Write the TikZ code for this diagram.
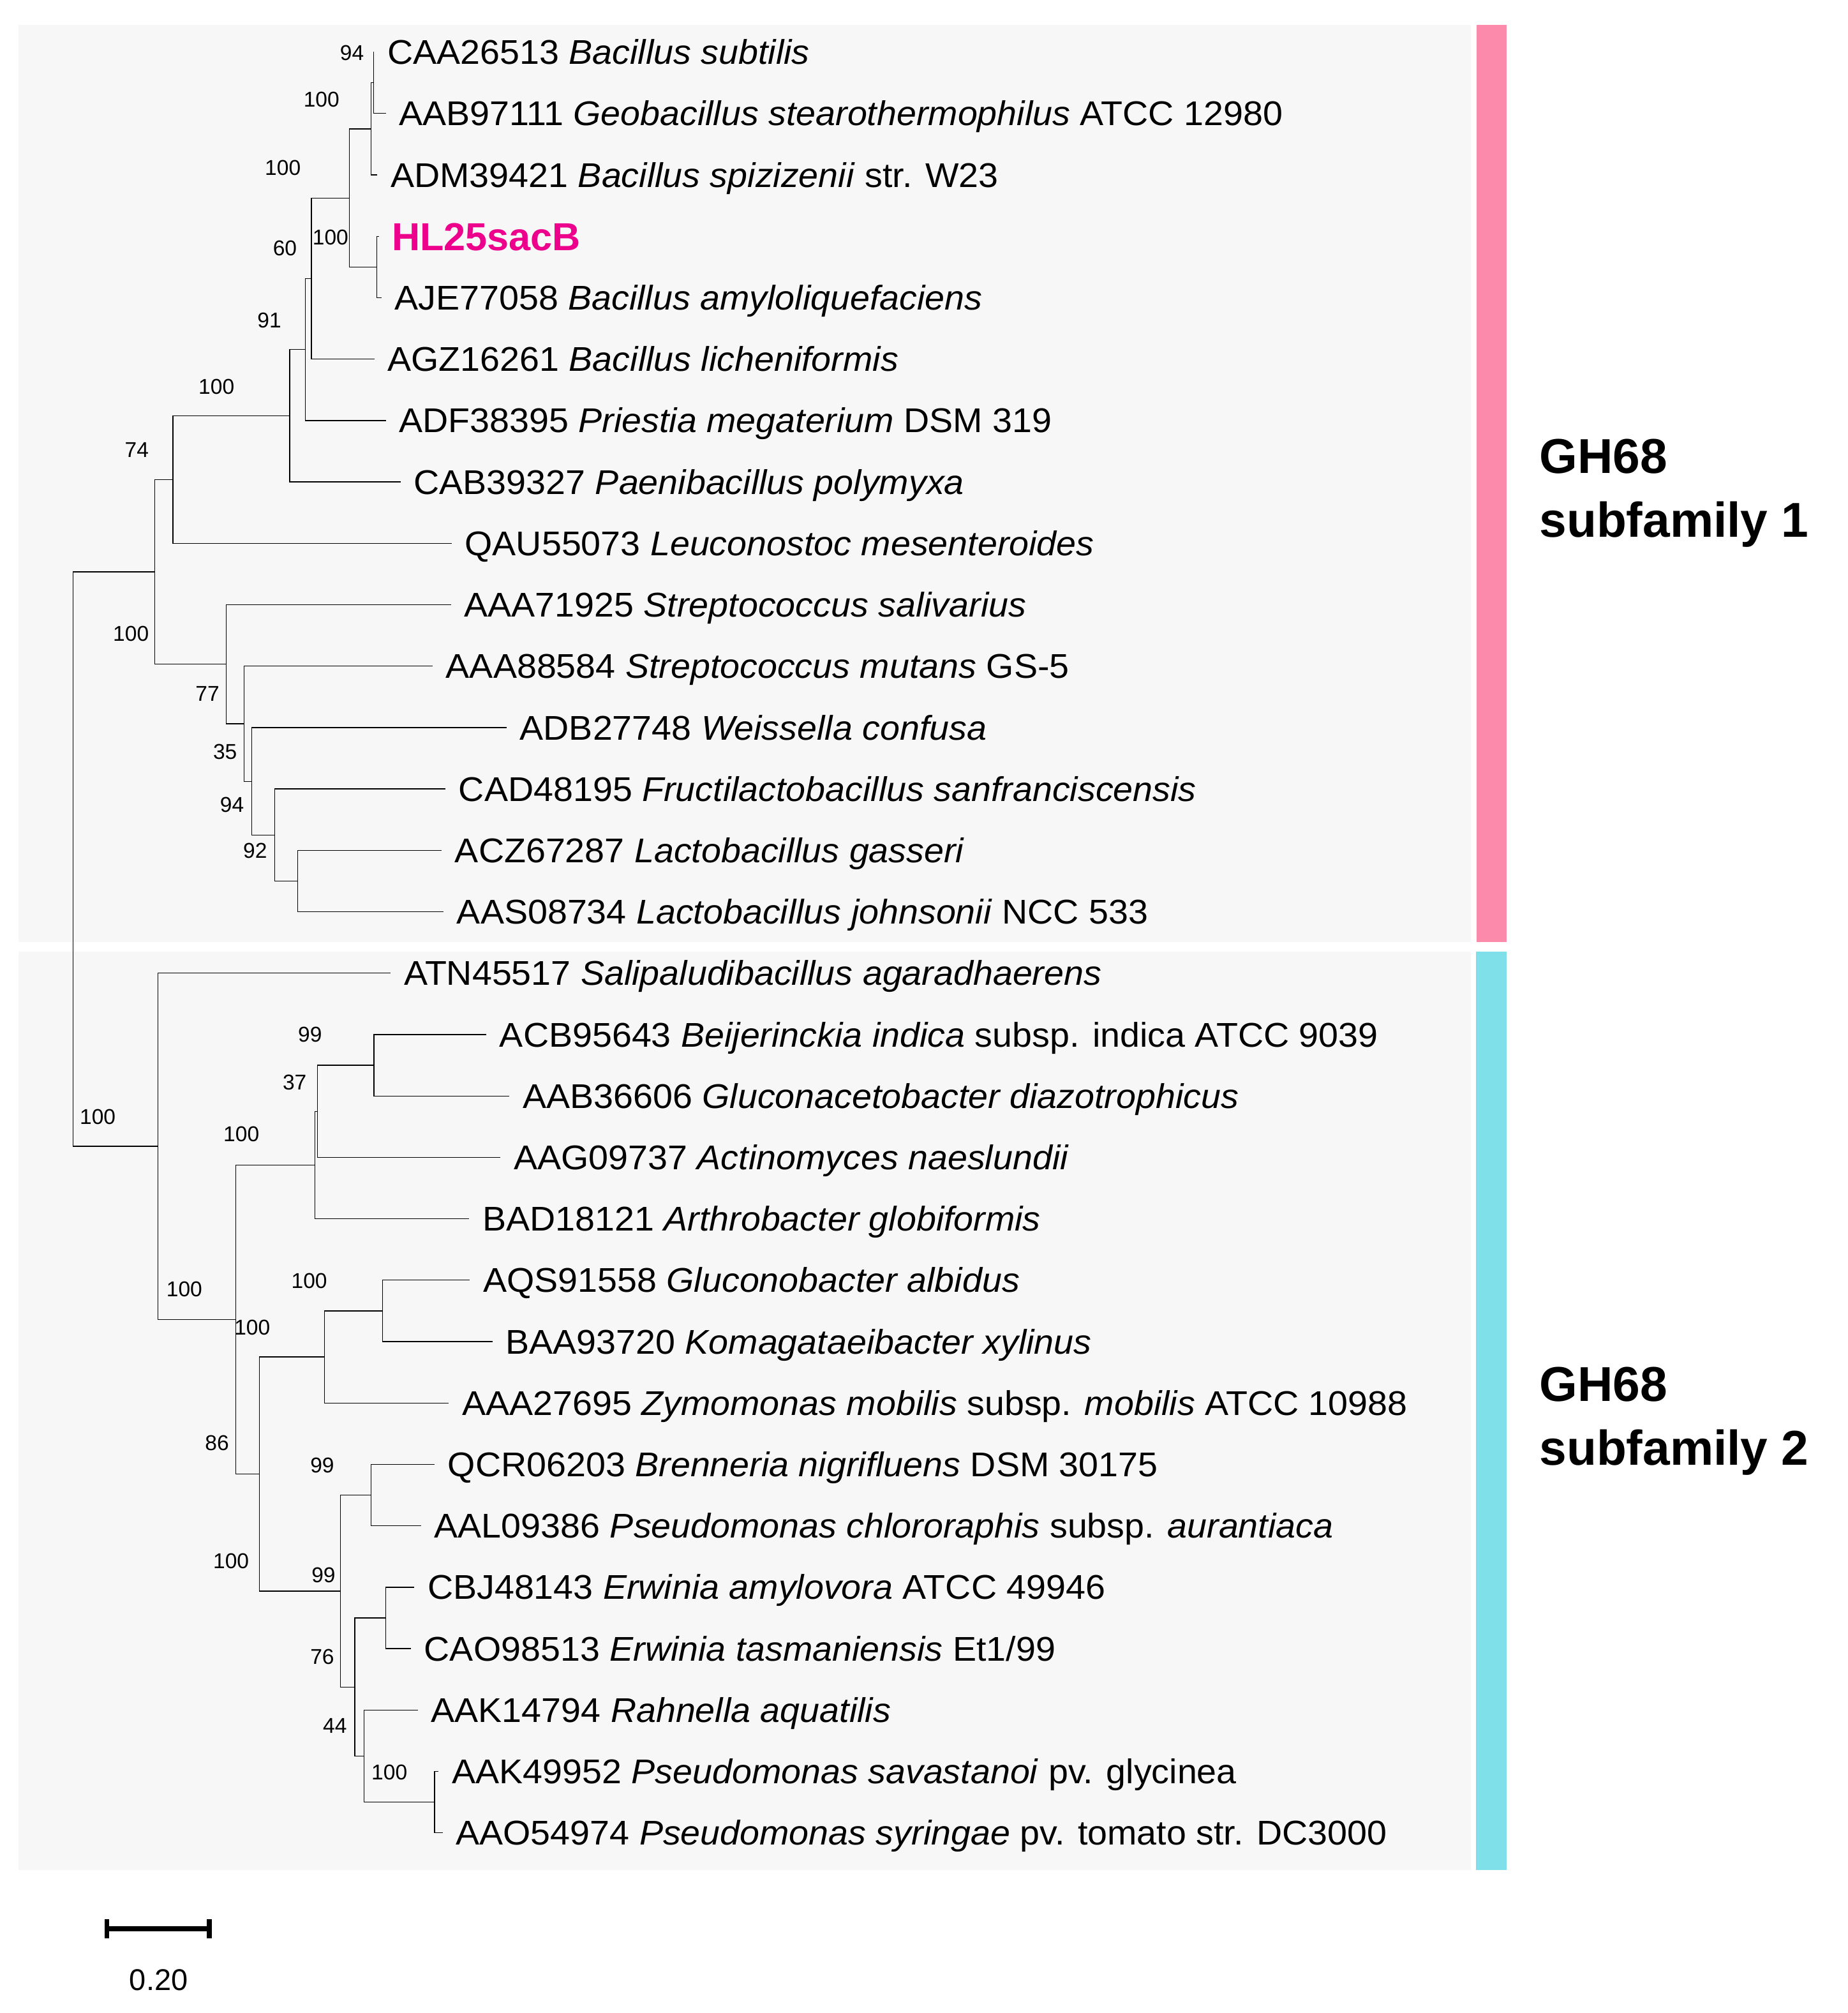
\documentclass[tikz,border=0pt]{standalone}
\usepackage{fontspec}
\setmainfont{Liberation Sans}
\newfontfamily\taxfont{Liberation Sans}[FakeStretch=1.035]
\usetikzlibrary{positioning}
\definecolor{hlpink}{RGB}{236,0,140}
\definecolor{barpink}{RGB}{252,138,170}
\definecolor{barcyan}{RGB}{128,224,234}
\definecolor{panelgray}{RGB}{247,247,247}
\tikzset{
  branch/.style={line width=0.35pt, black},
  taxon/.style={inner sep=0pt, text height=10.8pt, text depth=0pt, font=\taxfont\fontsize{15.2}{18}\selectfont},
  query/.style={taxon, text height=12.4pt, text=hlpink, font=\rmfamily\fontsize{17.3}{20}\selectfont\bfseries},
  boot/.style={inner sep=0pt, font=\fontsize{9.5}{11}\selectfont},
  famlabel/.style={inner sep=0pt, anchor=base west, font=\fontsize{21.7}{26}\selectfont\bfseries},
}
\begin{document}
\begin{tikzpicture}[x=0.02cm, y=-0.02cm]
  \useasboundingbox (0,0) rectangle (1439,1567.7);

  % panels and side bars
  \fill[panelgray] (14.4,19.4) rectangle (1145.8,733.7);
  \fill[panelgray] (14.4,741.2) rectangle (1145.8,1456.3);
  \fill[barpink] (1150.3,19.4) rectangle (1173.6,733.7);
  \fill[barcyan] (1149.8,741.2) rectangle (1173.6,1456.3);

  % leaf tips
  \coordinate (l1) at (291.5,40.6);
  \coordinate (l2) at (300.5,88.4);
  \coordinate (l3) at (294,136.2);
  \coordinate (l4) at (295,184.1);
  \coordinate (l5) at (297,231.9);
  \coordinate (l6) at (291.6,279.7);
  \coordinate (l7) at (300.5,327.5);
  \coordinate (l8) at (312,375.3);
  \coordinate (l9) at (351.8,423.2);
  \coordinate (l10) at (351.2,471.0);
  \coordinate (l11) at (337,518.8);
  \coordinate (l12) at (394.6,566.6);
  \coordinate (l13) at (347,614.4);
  \coordinate (l14) at (344,662.3);
  \coordinate (l15) at (345.5,710.1);
  \coordinate (l16) at (304.3,757.9);
  \coordinate (l17) at (378.8,805.7);
  \coordinate (l18) at (396.8,853.5);
  \coordinate (l19) at (389.9,901.4);
  \coordinate (l20) at (365.5,949.2);
  \coordinate (l21) at (366,997.0);
  \coordinate (l22) at (383.5,1044.8);
  \coordinate (l23) at (349.6,1092.6);
  \coordinate (l24) at (338.5,1140.5);
  \coordinate (l25) at (328,1188.3);
  \coordinate (l26) at (322.7,1236.1);
  \coordinate (l27) at (320.1,1283.9);
  \coordinate (l28) at (325.5,1331.7);
  \coordinate (l29) at (341.7,1379.6);
  \coordinate (l30) at (344.8,1427.4);

  % taxa
  \node[taxon, right=0.2cm of l1] (t1) {CAA26513 \textit{Bacillus subtilis}};
  \node[taxon, right=0.2cm of l2] (t2) {AAB97111 \textit{Geobacillus stearothermophilus} ATCC 12980};
  \node[taxon, right=0.2cm of l3] (t3) {ADM39421 \textit{Bacillus spizizenii} str. W23};
  \node[query, right=0.2cm of l4] (t4) {HL25sacB};
  \node[taxon, right=0.2cm of l5] (t5) {AJE77058 \textit{Bacillus amyloliquefaciens}};
  \node[taxon, right=0.2cm of l6] (t6) {AGZ16261 \textit{Bacillus licheniformis}};
  \node[taxon, right=0.2cm of l7] (t7) {ADF38395 \textit{Priestia megaterium} DSM 319};
  \node[taxon, right=0.2cm of l8] (t8) {CAB39327 \textit{Paenibacillus polymyxa}};
  \node[taxon, right=0.2cm of l9] (t9) {QAU55073 \textit{Leuconostoc mesenteroides}};
  \node[taxon, right=0.2cm of l10] (t10) {AAA71925 \textit{Streptococcus salivarius}};
  \node[taxon, right=0.2cm of l11] (t11) {AAA88584 \textit{Streptococcus mutans} GS-5};
  \node[taxon, right=0.2cm of l12] (t12) {ADB27748 \textit{Weissella confusa}};
  \node[taxon, right=0.2cm of l13] (t13) {CAD48195 \textit{Fructilactobacillus sanfranciscensis}};
  \node[taxon, right=0.2cm of l14] (t14) {ACZ67287 \textit{Lactobacillus gasseri}};
  \node[taxon, right=0.2cm of l15] (t15) {AAS08734 \textit{Lactobacillus johnsonii} NCC 533};
  \node[taxon, right=0.2cm of l16] (t16) {ATN45517 \textit{Salipaludibacillus agaradhaerens}};
  \node[taxon, right=0.2cm of l17] (t17) {ACB95643 \textit{Beijerinckia indica} subsp. indica ATCC 9039};
  \node[taxon, right=0.2cm of l18] (t18) {AAB36606 \textit{Gluconacetobacter diazotrophicus}};
  \node[taxon, right=0.2cm of l19] (t19) {AAG09737 \textit{Actinomyces naeslundii}};
  \node[taxon, right=0.2cm of l20] (t20) {BAD18121 \textit{Arthrobacter globiformis}};
  \node[taxon, right=0.2cm of l21] (t21) {AQS91558 \textit{Gluconobacter albidus}};
  \node[taxon, right=0.2cm of l22] (t22) {BAA93720 \textit{Komagataeibacter xylinus}};
  \node[taxon, right=0.2cm of l23] (t23) {AAA27695 \textit{Zymomonas mobilis} subsp. \textit{mobilis} ATCC 10988};
  \node[taxon, right=0.2cm of l24] (t24) {QCR06203 \textit{Brenneria nigrifluens} DSM 30175};
  \node[taxon, right=0.2cm of l25] (t25) {AAL09386 \textit{Pseudomonas chlororaphis} subsp. \textit{aurantiaca}};
  \node[taxon, right=0.2cm of l26] (t26) {CBJ48143 \textit{Erwinia amylovora} ATCC 49946};
  \node[taxon, right=0.2cm of l27] (t27) {CAO98513 \textit{Erwinia tasmaniensis} Et1/99};
  \node[taxon, right=0.2cm of l28] (t28) {AAK14794 \textit{Rahnella aquatilis}};
  \node[taxon, right=0.2cm of l29] (t29) {AAK49952 \textit{Pseudomonas savastanoi} pv. glycinea};
  \node[taxon, right=0.2cm of l30] (t30) {AAO54974 \textit{Pseudomonas syringae} pv. tomato str. DC3000};

  % internal nodes, subfamily 1
  \coordinate (nA) at (291,64.5);
  \coordinate (nB) at (289,100.35);
  \coordinate (nC) at (293.5,208);
  \coordinate (nD) at (272,154.2);
  \coordinate (nE) at (242.5,216.95);
  \coordinate (nF) at (237.7,272.2);
  \coordinate (nG) at (225.7,323.75);
  \coordinate (nH) at (134.7,373.5);
  \coordinate (nM) at (231.7,686.2);
  \coordinate (nL) at (214,650.3);
  \coordinate (nK) at (195.9,608.45);
  \coordinate (nJ) at (190.2,563.6);
  \coordinate (nI) at (176.2,517.3);
  \coordinate (nS1) at (120.4,445.4);
  % internal nodes, subfamily 2
  \coordinate (nW) at (291.3,829.6);
  \coordinate (nV) at (247.2,865.5);
  \coordinate (nU) at (245.3,907.35);
  \coordinate (nY2) at (298,1020.9);
  \coordinate (nY) at (252.6,1056.75);
  \coordinate (nZ1) at (289,1164.4);
  \coordinate (nZ5) at (300.5,1260);
  \coordinate (nZ4) at (338.5,1403.5);
  \coordinate (nZ3) at (283.7,1367.6);
  \coordinate (nZ2) at (276.4,1313.8);
  \coordinate (nZ) at (265.3,1239.1);
  \coordinate (nX) at (201.9,1147.9);
  \coordinate (nT) at (183.8,1027.6);
  \coordinate (nS2) at (123,892.75);
  \coordinate (root) at (57,669.1);

  % branches
  \draw[branch] (nA) |- (l1) (nA) |- (l2);
  \draw[branch] (nB) |- (nA) (nB) |- (l3);
  \draw[branch] (nC) |- (l4) (nC) |- (l5);
  \draw[branch] (nD) |- (nB) (nD) |- (nC);
  \draw[branch] (nE) |- (nD) (nE) |- (l6);
  \draw[branch] (nF) |- (nE) (nF) |- (l7);
  \draw[branch] (nG) |- (nF) (nG) |- (l8);
  \draw[branch] (nH) |- (nG) (nH) |- (l9);
  \draw[branch] (nM) |- (l14) (nM) |- (l15);
  \draw[branch] (nL) |- (l13) (nL) |- (nM);
  \draw[branch] (nK) |- (l12) (nK) |- (nL);
  \draw[branch] (nJ) |- (l11) (nJ) |- (nK);
  \draw[branch] (nI) |- (l10) (nI) |- (nJ);
  \draw[branch] (nS1) |- (nH) (nS1) |- (nI);
  \draw[branch] (nW) |- (l17) (nW) |- (l18);
  \draw[branch] (nV) |- (nW) (nV) |- (l19);
  \draw[branch] (nU) |- (nV) (nU) |- (l20);
  \draw[branch] (nY2) |- (l21) (nY2) |- (l22);
  \draw[branch] (nY) |- (nY2) (nY) |- (l23);
  \draw[branch] (nZ1) |- (l24) (nZ1) |- (l25);
  \draw[branch] (nZ5) |- (l26) (nZ5) |- (l27);
  \draw[branch] (nZ4) |- (l29) (nZ4) |- (l30);
  \draw[branch] (nZ3) |- (l28) (nZ3) |- (nZ4);
  \draw[branch] (nZ2) |- (nZ5) (nZ2) |- (nZ3);
  \draw[branch] (nZ) |- (nZ1) (nZ) |- (nZ2);
  \draw[branch] (nX) |- (nY) (nX) |- (nZ);
  \draw[branch] (nT) |- (nU) (nT) |- (nX);
  \draw[branch] (nS2) |- (l16) (nS2) |- (nT);
  \draw[branch] (root) |- (nS1) (root) |- (nS2);

  % bootstrap values
  \node[boot] (bA) at (274.2,41.4) {94};
  \node[boot] (bB) at (250.4,77.6) {100};
  \node[boot] (bD) at (220.3,130.7) {100};
  \node[boot] (bC) at (257.4,184.9) {100};
  \node[boot] (bE) at (221.9,193.4) {60};
  \node[boot] (bF) at (209.8,249.6) {91};
  \node[boot] (bG) at (168.6,301) {100};
  \node[boot] (bH) at (106.5,350.4) {74};
  \node[boot] (bI) at (102,493.5) {100};
  \node[boot] (bJ) at (161.6,540.1) {77};
  \node[boot] (bK) at (175.3,585.6) {35};
  \node[boot] (bL) at (180.7,626.7) {94};
  \node[boot] (bM) at (198.7,662.6) {92};
  \node[boot] (bS2) at (76.1,869.7) {100};
  \node[boot] (bW) at (241.5,805.8) {99};
  \node[boot] (bV) at (229.5,842.9) {37};
  \node[boot] (bU) at (188,883.4) {100};
  \node[boot] (bT) at (143.6,1004) {100};
  \node[boot] (bY2) at (240.9,997.5) {100};
  \node[boot] (bY) at (196.5,1034) {100};
  \node[boot] (bX) at (169,1123.9) {86};
  \node[boot] (bZ1) at (251,1141) {99};
  \node[boot] (bZ) at (180,1215.5) {100};
  \node[boot] (bZ5) at (252,1226.8) {99};
  \node[boot] (bZ2) at (251,1290.1) {76};
  \node[boot] (bZ3) at (260.9,1343.9) {44};
  \node[boot] (bZ4) at (303.3,1380.3) {100};

  % subfamily labels
  \node[famlabel] (g1a) at (1198.8,368.7) {GH68};
  \node[famlabel] (g1b) at (1198.8,418.4) {subfamily 1};
  \node[famlabel] (g2a) at (1198.8,1091.3) {GH68};
  \node[famlabel] (g2b) at (1198.8,1141) {subfamily 2};

  % scale bar
  \coordinate (sbL) at (81.5,1502);
  \coordinate (sbR) at (164.8,1502);
  \draw[line width=2.3pt] (sbL) -- (sbR);
  \draw[line width=2pt] ([xshift=1pt, yshift=4.2pt]sbL) -- ([xshift=1pt, yshift=-4.2pt]sbL);
  \draw[line width=2pt] ([xshift=-1pt, yshift=4.2pt]sbR) -- ([xshift=-1pt, yshift=-4.2pt]sbR);
  \node[inner sep=0pt, font=\fontsize{13.3}{16}\selectfont] (sblabel) at (123.6,1542) {0.20};
\end{tikzpicture}
\end{document}
